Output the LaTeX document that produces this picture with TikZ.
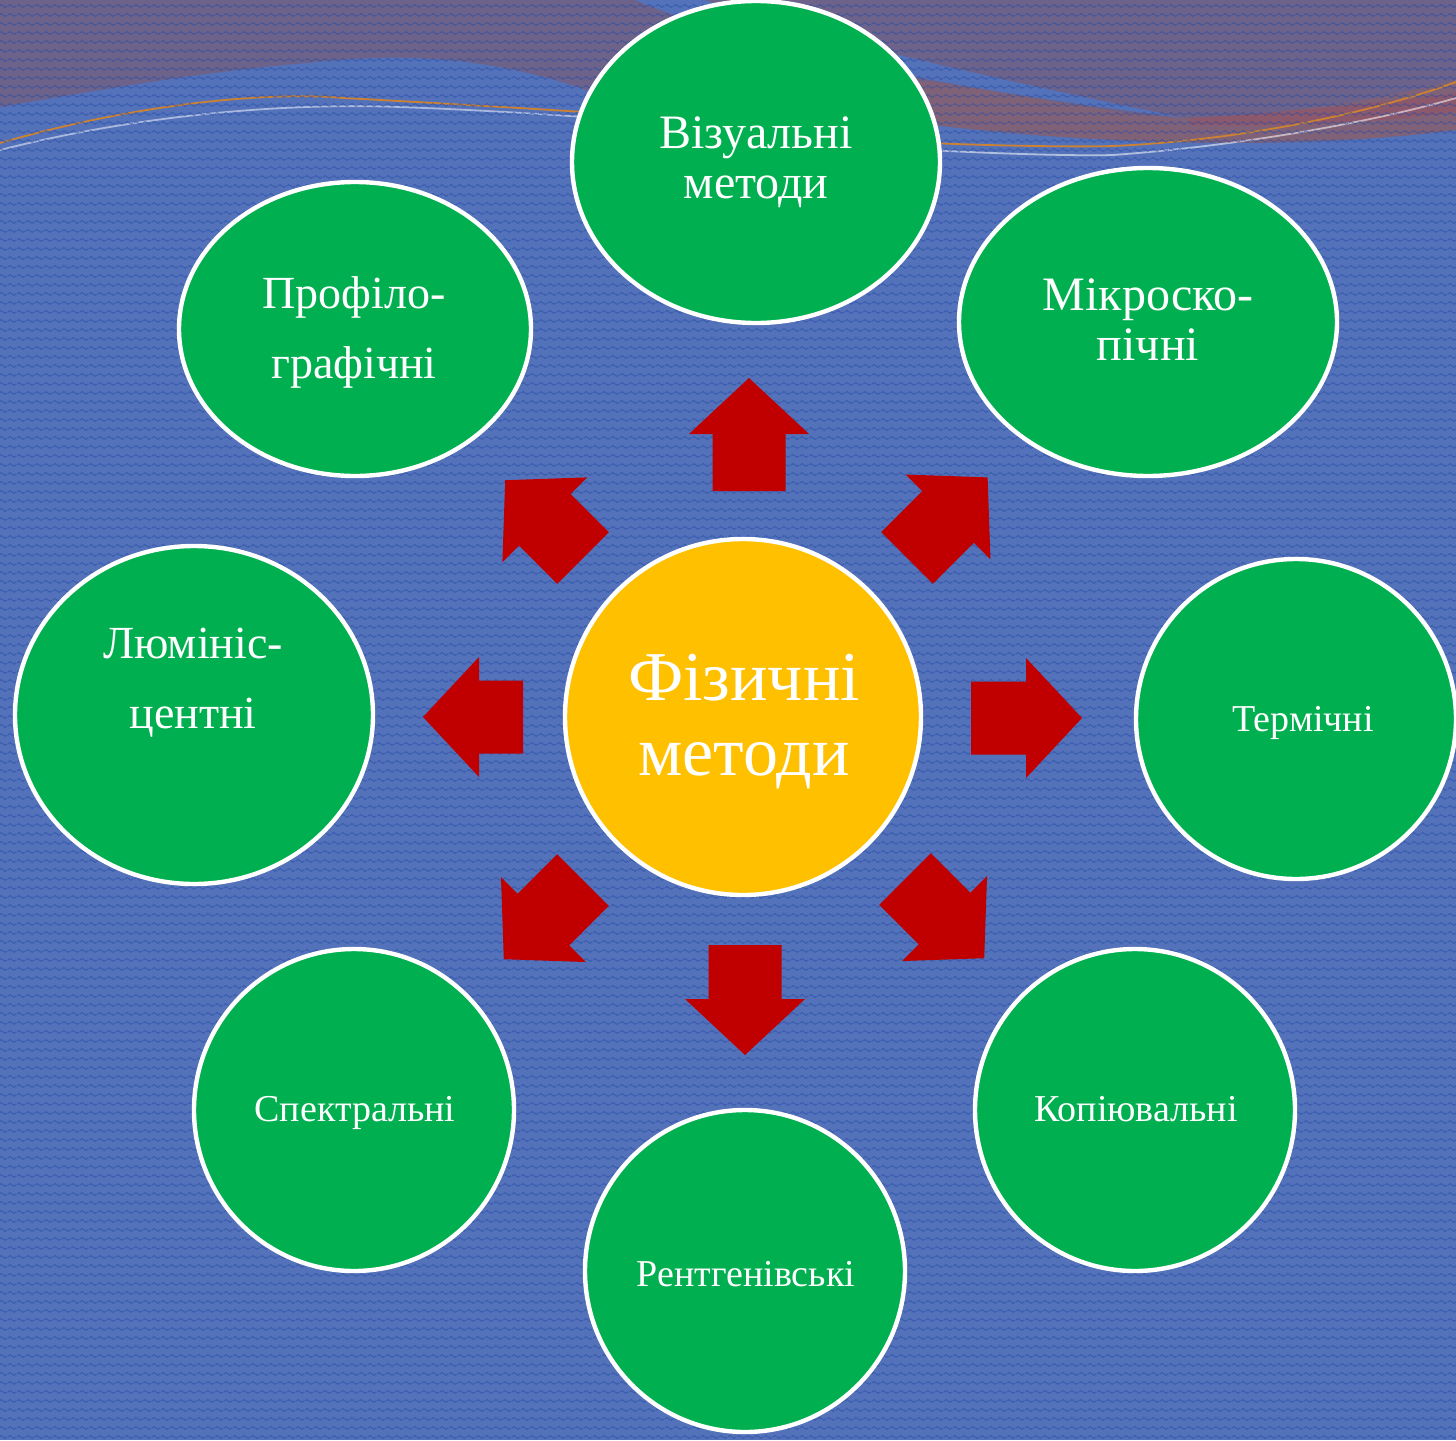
\documentclass[tikz,border=0pt]{standalone}
\usepackage{fontspec}
\setmainfont{Liberation Serif}
\usetikzlibrary{shapes.geometric,patterns}
\definecolor{bgblue}{RGB}{84,114,186}
\definecolor{bgzig}{RGB}{36,76,168}
\definecolor{toppurple}{RGB}{108,98,138}
\definecolor{bandbrown}{RGB}{128,98,120}
\definecolor{bandred}{RGB}{146,84,104}
\definecolor{thinorange}{RGB}{205,130,50}
\definecolor{mgreen}{RGB}{0,176,80}
\definecolor{myellow}{RGB}{255,192,0}
\definecolor{mred}{RGB}{192,0,0}
\pgfdeclarepatternformonly{zigzagbg}{\pgfqpoint{0pt}{0pt}}{\pgfqpoint{4.5pt}{4.5pt}}{\pgfqpoint{4.5pt}{4.5pt}}{%
  \pgfsetlinewidth{0.6pt}%
  \pgfpathmoveto{\pgfqpoint{0pt}{2.25pt}}%
  \pgfpathlineto{\pgfqpoint{1.125pt}{3pt}}%
  \pgfpathlineto{\pgfqpoint{3.375pt}{1.5pt}}%
  \pgfpathlineto{\pgfqpoint{4.5pt}{2.25pt}}%
  \pgfusepath{stroke}}
\newcommand{\blockarrow}[4]{%
  \fill[mred, shift={(#1,#2)}, rotate=#3]
    (0,-36.5) -- ({#4-56},-36.5) -- ({#4-56},-60) -- (#4,0)
    -- ({#4-56},60) -- ({#4-56},36.5) -- (0,36.5) -- cycle;}
\tikzset{
  method/.style={ellipse, fill=mgreen, draw=white, line width=2.2pt, inner sep=0pt},
  lbl/.style={text=white, align=center, inner sep=0pt},
  biglbl/.style={lbl, font=\fontsize{24}{25}\selectfont},
  widelbl/.style={lbl, font=\fontsize{23}{35}\selectfont},
  smalllbl/.style={lbl, font=\fontsize{19}{22}\selectfont},
  centerlbl/.style={lbl, font=\fontsize{35}{37.5}\selectfont},
}
\begin{document}
\begin{tikzpicture}[x=0.5pt,y=-0.5pt]
\useasboundingbox (0,0) rectangle (1456,1440);
\clip (0,0) rectangle (1456,1440);
% background
\fill[bgblue] (0,0) rectangle (1456,1440);
\fill[toppurple] (0,0) -- (1456,0) -- (1456,130)
  .. controls (1300,150) and (1100,145) .. (935,125) -- (760,120) -- (600,95)
  .. controls (480,50) and (380,55) .. (306,63)
  .. controls (200,72) and (100,90) .. (0,107) -- cycle;
\fill[bandbrown] (900,80) -- (935,82) .. controls (1050,100) and (1120,115) .. (1184,118)
  .. controls (1300,115) and (1400,95) .. (1456,80) -- (1456,130)
  .. controls (1300,150) and (1100,145) .. (935,125) -- (900,122) -- cycle;
\fill[bandred, opacity=0.7] (1190,118) .. controls (1300,112) and (1400,100) .. (1456,93)
  -- (1456,112) .. controls (1400,120) and (1300,128) .. (1190,125) -- cycle;
\fill[bgblue] (635,0) -- (705,0) .. controls (820,40) and (1000,80) .. (1184,118)
  .. controls (1000,95) and (780,60) .. (635,0) -- cycle;
\draw[thinorange, line width=0.9pt] (0,143) .. controls (150,100) and (280,92) .. (343,98)
  .. controls (420,102) and (520,108) .. (600,113);
\draw[white, opacity=0.5, line width=0.9pt] (0,150) .. controls (150,112) and (300,103) .. (400,107)
  .. controls (480,110) and (540,114) .. (600,118);
\draw[thinorange, line width=0.9pt] (930,143) .. controls (1000,146) and (1080,147) .. (1113,146)
  .. controls (1250,140) and (1380,110) .. (1456,82);
\draw[white, opacity=0.55, line width=0.9pt] (930,150) .. controls (1000,154) and (1080,156) .. (1113,155)
  .. controls (1250,145) and (1380,120) .. (1456,98);
% texture
\fill[pattern=zigzagbg, pattern color=bgzig, fill opacity=0.55] (0,0) rectangle (1456,1440);
% arrows
\blockarrow{749}{491}{90}{113}
\blockarrow{907}{558}{45}{114}
\blockarrow{971}{718}{0}{111}
\blockarrow{905}{879}{-45}{112}
\blockarrow{745}{945}{-90}{110}
\blockarrow{583}{880}{-135}{112}
\blockarrow{523}{717}{180}{100}
\blockarrow{583}{558}{135}{110}
% nodes
\node[method, minimum width=184pt, minimum height=161pt] (viz) at (756,162) {};
\node[method, minimum width=189pt, minimum height=154pt] (mikro) at (1148,322) {};
\node[method, minimum width=160pt, minimum height=160pt] (term) at (1296,719) {};
\node[method, minimum width=160pt, minimum height=161pt] (kop) at (1135,1110) {};
\node[method, minimum width=160pt, minimum height=161pt] (rent) at (745,1271) {};
\node[method, minimum width=160pt, minimum height=161pt] (spek) at (354,1110) {};
\node[method, minimum width=179pt, minimum height=169pt] (lum) at (194,715) {};
\node[method, minimum width=176pt, minimum height=147pt] (prof) at (355,329) {};
\node[circle, fill=myellow, draw=white, line width=2.2pt, minimum size=178pt] (phys) at (743,717) {};
% labels
\node[biglbl] (vizt) at (756,162) {Візуальні\\методи};
\node[biglbl] (mikrot) at (1148,320) {Мікроско-\\пічні};
\node[widelbl] (proft) at (354,332) {Профіло-\\графічні};
\node[widelbl] (lumt) at (193,683) {Люмініс-\\центні};
\node[centerlbl] (physt) at (744,722) {Фізичні\\методи};
\node[smalllbl] (termt) at (1303,723) {Термічні};
\node[smalllbl] (kopt) at (1136,1109) {Копіювальні};
\node[smalllbl] (rentt) at (746,1274) {Рентгенівські};
\node[smalllbl] (spekt) at (355,1113) {Спектральні};
\end{tikzpicture}
\end{document}
